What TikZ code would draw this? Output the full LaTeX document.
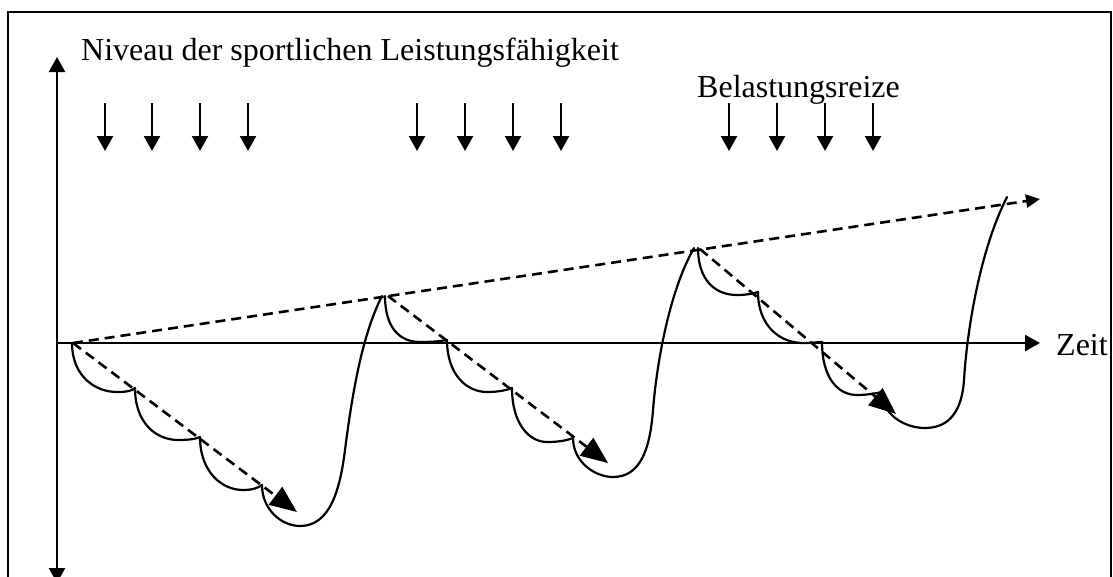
\documentclass[tikz,border=0pt]{standalone}
\usepackage{fontspec}
\setmainfont{Liberation Serif}
\usetikzlibrary{arrows.meta}
\begin{document}
\begin{tikzpicture}[x=1pt,y=-1pt,
  >={Triangle[length=15pt,width=16pt]},
  lbl/.style={anchor=base west,inner sep=0pt,font=\fontsize{32}{38}\selectfont},
  axisline/.style={line width=2.4pt},
  stim/.style={line width=2.4pt,->},
  trend/.style={line width=2.6pt,dash pattern=on 10pt off 6pt,-{Triangle[length=14pt,width=13pt]}},
  drop/.style={line width=2.6pt,dash pattern=on 10pt off 6pt,-{Triangle[length=27pt,width=22pt]}},
  perf/.style={line width=2.2pt,line join=round,line cap=round}]
\useasboundingbox (0,0) rectangle (1113,576);
\draw[line width=2pt] (8,12) rectangle (1111,620);
% axes
\coordinate (O) at (57,343);
\coordinate (ytop) at (57,57);
\coordinate (ybot) at (57,583);
\coordinate (xend) at (1040,343);
\draw[axisline,<->] (ybot) -- (ytop);
\draw[axisline,->] (O) -- (xend);
% labels
\node[lbl] (niveau) at (81,60) {Niveau der sportlichen Leistungsfähigkeit};
\node[lbl] (reize) at (697,97) {Belastungsreize};
\node[lbl] (zeit) at (1056,355) {Zeit};
% stimulus arrows
\foreach \x in {105,152,200,248,417,465,513,561,729,777,825,873}{
  \coordinate (sa\x) at (\x,103);
  \coordinate (sb\x) at (\x,151);
  \draw[stim] (sa\x) -- (sb\x);
}
% trend and drops
\coordinate (p0) at (73,343);
\coordinate (p1) at (388,296);
\coordinate (p2) at (700,249);
\coordinate (tend) at (1040,199);
\coordinate (d1) at (297,512);
\coordinate (d2) at (608,463);
\coordinate (d3) at (896,414);
\draw[trend] (p0) -- (tend);
\draw[drop] (p0) -- (d1);
\draw[drop] (p1) -- (d2);
\draw[drop] (p2) -- (d3);
% performance curve
\draw[perf]
 (72,343) .. controls (72,376) and (95,392) .. (117,392) .. controls (126,392) and (132,391) .. (135,388)
 .. controls (135,424) and (157,440) .. (178,440) .. controls (188,440) and (196,439) .. (200,437)
 .. controls (200,472) and (222,490) .. (243,490) .. controls (252,490) and (258,488) .. (262,485)
 .. controls (262,510) and (282,526) .. (300,526) .. controls (330,526) and (340,490) .. (345,450)
 .. controls (352,395) and (362,335) .. (382,296)
 (385,296) .. controls (385,328) and (400,342) .. (420,342) .. controls (433,342) and (442,341) .. (447,340)
 .. controls (447,375) and (467,392) .. (487,392) .. controls (499,392) and (507,390) .. (512,388)
 .. controls (512,425) and (530,442) .. (547,442) .. controls (560,442) and (568,440) .. (573,438)
 .. controls (573,462) and (595,477) .. (613,477) .. controls (640,477) and (650,450) .. (653,410)
 .. controls (657,360) and (670,290) .. (694,248)
 (698,248) .. controls (698,280) and (715,295) .. (737,295) .. controls (748,295) and (755,293) .. (758,292)
 .. controls (758,326) and (780,343) .. (803,343) .. controls (812,343) and (818,342) .. (822,342)
 .. controls (822,378) and (838,395) .. (857,395) .. controls (868,395) and (877,393) .. (882,392)
 .. controls (882,415) and (905,428) .. (925,428) .. controls (950,428) and (962,410) .. (964,380)
 .. controls (967,330) and (980,250) .. (1007,197);
\end{tikzpicture}
\end{document}
